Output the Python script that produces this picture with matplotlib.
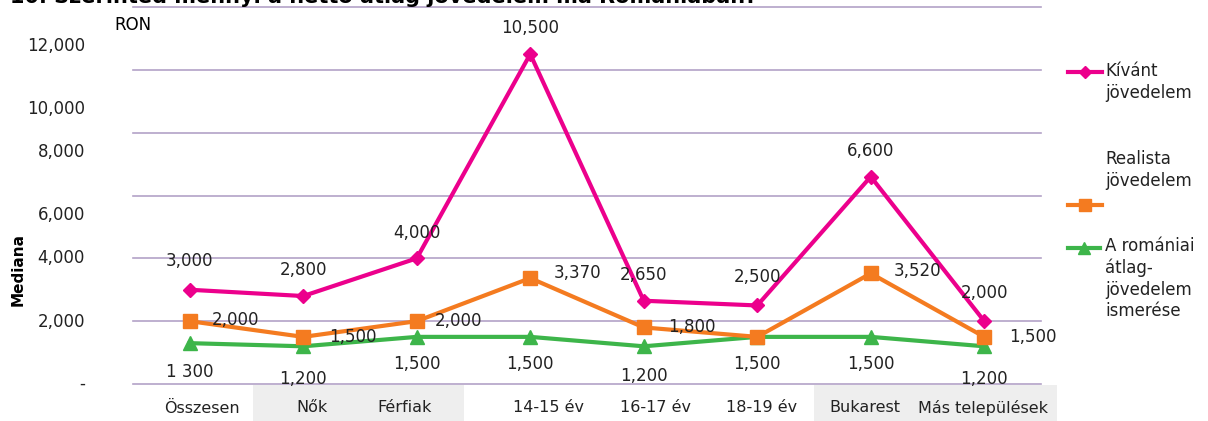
import numpy as np
import matplotlib.pyplot as plt
from matplotlib.lines import Line2D
from matplotlib.patches import Rectangle
from matplotlib.transforms import blended_transform_factory

categories = ["Összesen", "Nők", "Férfiak", "14-15 év", "16-17 év",
              "18-19 év", "Bukarest", "Más települések"]
kivant = [3000, 2800, 4000, 10500, 2650, 2500, 6600, 2000]
realista = [2000, 1500, 2000, 3370, 1800, 1500, 3520, 1500]
atlag = [1300, 1200, 1500, 1500, 1200, 1500, 1500, 1200]

grid_values = [0, 2000, 4000, 6000, 8000, 10000, 12000]
# the axis labels in the source sit off their gridlines
ytick_labels = ["-", "2,000", "4,000", "6,000", "8,000", "10,000", "12,000"]
ytick_label_pos = [0, 1970, 4000, 5370, 7370, 8760, 10760]

PINK = "#EC008C"
ORANGE = "#F47B20"
GREEN = "#3DB54A"
GRID = "#B3A2C7"

# per-point label offsets (points)
kiv_off = [(0, 14), (0, 12), (0, 12), (0, 12), (0, 12), (0, 14), (0, 12), (0, 14)]
rea_off = [(33, 1), (36, 0), (30, 0), (34, 4), (35, 0), None, (34, 2), (35, 0)]
atl_off = [(0, -14), (0, -17), (0, -13), (0, -13), (0, -15), (0, -13), (0, -13), (0, -17)]
label_x = [0.11, 1.08, 1.89, 3.16, 4.1, 5.04, 5.95, 6.99]

plt.rcParams["font.family"] = ["DejaVu Sans"]

fig = plt.figure(figsize=(12.08, 4.21), dpi=100)
ax = fig.add_axes([133 / 1208, (421 - 384) / 421, 908 / 1208, 377 / 421])
ax.patch.set_alpha(0)

x = np.arange(len(categories))
ax.set_xlim(-0.5, len(categories) - 0.5)
ax.set_ylim(0, 12000)

for g in grid_values:
    ax.axhline(g, color=GRID, lw=1.2, zorder=0, clip_on=False)

ax.plot(x, atlag, color=GREEN, lw=3, marker="^", ms=10, zorder=3, clip_on=False)
ax.plot(x, realista, color=ORANGE, lw=3, marker="s", ms=10, zorder=4, clip_on=False)
ax.plot(x, kivant, color=PINK, lw=3, marker="D", ms=7, zorder=5, clip_on=False)

fmt = lambda v: f"{v:,}"
for i in range(len(categories)):
    ax.annotate(fmt(kivant[i]), (x[i], kivant[i]), xytext=kiv_off[i],
                textcoords="offset points", ha="center", va="bottom",
                fontsize=12, color="#222222", zorder=6)
    if rea_off[i] is not None:
        ax.annotate(fmt(realista[i]), (x[i], realista[i]), xytext=rea_off[i],
                    textcoords="offset points", ha="center", va="center",
                    fontsize=12, color="#222222", zorder=6)
    lab = "1 300" if i == 0 else fmt(atlag[i])
    ax.annotate(lab, (x[i], atlag[i]), xytext=atl_off[i],
                textcoords="offset points", ha="center", va="top",
                fontsize=12, color="#222222", zorder=6)

for s in ax.spines.values():
    s.set_visible(False)
ax.set_yticks([])
ax.set_xticks([])

ytr = blended_transform_factory(ax.transAxes, ax.transData)
for lab, pos in zip(ytick_labels, ytick_label_pos):
    ax.text(-0.053, pos, lab, transform=ytr, ha="right", va="center",
            fontsize=12, color="#222222")

# category labels with grey bands behind some groups
xtr = blended_transform_factory(ax.transData, fig.transFigure)
for x0, x1 in [(0.555, 2.42), (5.5, 7.64)]:
    fig.patches.append(Rectangle((x0, 0), x1 - x0, 36 / 421, transform=xtr,
                                 facecolor="#EEEEEE", edgecolor="none", zorder=-5))
for lx, c in zip(label_x, categories):
    fig.text(lx, 1 - 408 / 421, c, transform=xtr, ha="center", va="center",
             fontsize=11.5, color="#222222")

fig.text(18 / 1208, 1 - 270 / 421, "Mediana", rotation=90, ha="center",
         va="center", fontsize=11, fontweight="bold")
fig.text(133 / 1208, 1 - 25 / 421, "RON", ha="center", va="center", fontsize=12)
fig.text(10 / 1208, 1 + 4 / 421, "10. Szerinted mennyi a nettó átlag jövedelem ma Romániában?",
         ha="left", va="center", fontsize=15, fontweight="bold")

# legend, drawn by hand to keep the source layout
def legend_entry(y_marker, y_text, color, marker, ms, text, x_line=(1068, 1102)):
    fig.add_artist(Line2D([x_line[0] / 1208, x_line[1] / 1208],
                          [1 - y_marker / 421] * 2, color=color, lw=3,
                          transform=fig.transFigure))
    fig.add_artist(Line2D([(x_line[0] + x_line[1]) / 2 / 1208],
                          [1 - y_marker / 421], color=color, marker=marker,
                          ms=ms, transform=fig.transFigure))
    fig.text(1105 / 1208, 1 - y_text / 421, text, ha="left", va="top",
             fontsize=12, color="#222222", linespacing=1.25)

legend_entry(72, 62, PINK, "D", 6, "Kívánt\njövedelem", (1068, 1102))
legend_entry(205, 150, ORANGE, "s", 9, "Realista\njövedelem", (1068, 1102))
legend_entry(248, 237, GREEN, "^", 9, "A romániai\nátlag-\njövedelem\nismerése", (1068, 1100))

fig.savefig("out.png", dpi=100)
